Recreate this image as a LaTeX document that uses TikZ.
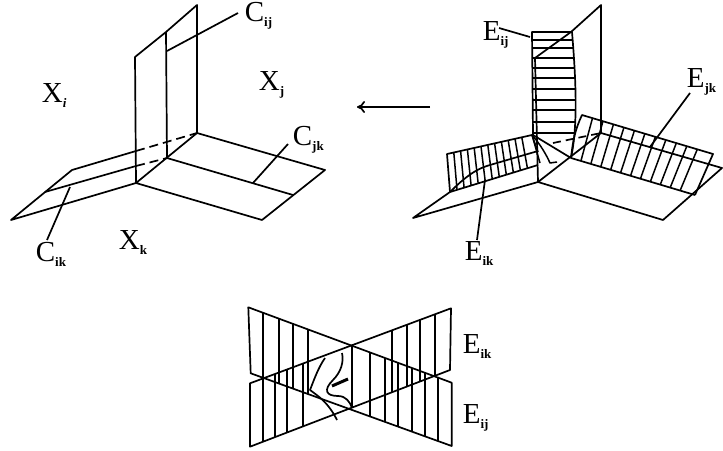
\documentclass[tikz,border=0pt]{standalone}
\usepackage{fontspec}
\setmainfont{Liberation Serif}
\usetikzlibrary{calc,arrows.meta}
\newcommand{\biglab}[2]{{\fontsize{29}{29}\selectfont #1}\raisebox{-5pt}{\fontsize{13}{13}\selectfont\bfseries #2}}
\begin{document}
\begin{tikzpicture}[
x=1pt,y=-1pt,
line width=1.7pt,line join=round,
hatch/.style={line width=1.5pt},
lab/.style={anchor=west,inner sep=0pt}
]
\useasboundingbox (0,0) rectangle (723,450);
\node[lab] (Xi) at (41,96) {\biglab{X}{\textit{i}}};
\node[lab] (Xj) at (258,85) {\biglab{X}{j}};
\node[lab] (Xk) at (118,243) {\biglab{X}{k}};
\node[lab] (Cij) at (244,16) {\biglab{C}{ij}};
\node[lab] (Cjk) at (292,140) {\biglab{C}{jk}};
\node[lab] (Cik) at (35,254) {\biglab{C}{ik}};
\node[lab] (Eij) at (482,35) {\biglab{E}{ij}};
\node[lab] (Ejk) at (686,82) {\biglab{E}{jk}};
\node[lab] (Eik) at (464,254) {\biglab{E}{ik}};
\node[lab] (Elow) at (462,347) {\biglab{E}{ik}};
\node[lab] (Elowb) at (462,418) {\biglab{E}{ij}};

\coordinate (a1) at (197,133);
\coordinate (a2) at (197,5);
\coordinate (a3) at (166,32);
\coordinate (a4) at (135,57);
\coordinate (a5) at (136,183);
\coordinate (a6) at (167,158);
\coordinate (a7) at (325,170);
\coordinate (a8) at (262,220);
\coordinate (a9) at (293,195);
\coordinate (a10) at (11,220);
\coordinate (a11) at (72,170);
\coordinate (a12) at (45,192);
\coordinate (a13) at (136,151);
\coordinate (a14) at (136,166);
\draw (a1) -- (a2) -- (a3) -- (a4) -- (a5) -- (a8) -- (a7) -- (a1) -- (a5);
\draw (a3) -- (a6) -- (a9);
\draw (a5) -- (a10) -- (a11) -- (a13);
\draw (a12) -- (a14);
\draw[dashed,dash pattern=on 9pt off 5pt] (a13) -- (a1);
\draw[dashed,dash pattern=on 9pt off 5pt] (a14) -- (a6);
\coordinate (p1) at (167,51);
\coordinate (p2) at (253,183);
\coordinate (p3) at (70,187);
\draw (p1) -- ([shift={(-6,-3)}]Cij.west);
\draw (p2) -- ([shift={(-4,4)}]Cjk.west);
\draw (p3) -- ([shift={(12,-14)}]Cik.west);

\coordinate (arrowr) at (430,107);
\coordinate (arrowl) at (357,107);
\draw[-{To[length=8pt,width=12pt]}] (arrowr) -- (arrowl);

\coordinate (b1) at (601,133);
\coordinate (b2) at (601,5);
\coordinate (b3) at (571,32);
\coordinate (b4) at (535,58);
\coordinate (b5) at (538,182);
\coordinate (b6) at (571,158);
\coordinate (b7) at (722,168);
\coordinate (b8) at (663,220);
\coordinate (b9) at (695,195);
\coordinate (b10) at (413,218);
\coordinate (b11) at (450,192);
\coordinate (b12) at (538,165);
\draw (b1) -- (b2) -- (b3) -- (b4) -- (b5) -- (b8) -- (b7) -- (b1) -- (b5);
\draw (b6) -- (b9);
\draw (b5) -- (b10) -- (b11) -- (b12);

\coordinate (eij1) at (532,32);
\coordinate (eij2) at (572,32);
\coordinate (eij3) at (533,135);
\draw (eij3) -- (eij1) -- (eij2) .. controls (576,80) and (578,125) .. (b6);
\draw (eij3) -- (b6);
\foreach \y/\r in {40/573,48/574,58/574,68/575,78/576,89/576,100/576,110/576,122/576,133/575}
  \draw[hatch] (532,\y) -- (\r,\y);

\coordinate (ejk1) at (582,115);
\coordinate (ejk2) at (713,154);
\draw (b6) .. controls (573,140) and (575,130) .. (ejk1) -- (ejk2) -- (b9);
\foreach \t in {0.08,0.16,...,0.95}
  \draw[hatch] ($(ejk1)!\t!(ejk2)$) -- ($(b6)!\t!(b9)$);

\coordinate (eik1) at (447,154);
\coordinate (eik2) at (532,135);
\draw (b11) -- (eik1) -- (eik2);
\foreach \t in {0.08,0.16,...,0.95}
  \draw[hatch] ($(eik1)!\t!(eik2)$) -- ($(b11)!\t!(b12)$);
\draw (b11) .. controls (470,172) and (480,168) .. (490,165) -- (538,151);
\draw[hatch] (eik2) -- (540,163);
\draw[hatch] (eik2) -- (538,152);
\draw[hatch] (eik2) .. controls (540,144) and (546,154) .. (550,163) -- (557,162);
\draw[dashed,dash pattern=on 8pt off 5pt] (553,143) -- (b1);

\coordinate (q1) at (530,37);
\coordinate (q2) at (650,147);
\coordinate (q3) at (485,180);
\draw (q1) -- ([shift={(17,-7)}]Eij.west);
\draw (q2) -- ([shift={(4,11)}]Ejk.west);
\draw (q3) -- ([shift={(13,-14)}]Eik.west);

\coordinate (c1) at (248.3,307.3);
\coordinate (c2) at (451.7,382.7);
\coordinate (c3) at (250,383.3);
\coordinate (c4) at (451,308.3);
\coordinate (c5) at (250.7,373.3);
\coordinate (c6) at (451.7,446);
\coordinate (c7) at (250,446.7);
\coordinate (c8) at (450,370);
\coordinate (c9) at (352,345);
\coordinate (c10) at (352,408);
\draw (c1) -- (c2) -- (c6) -- (c5) -- cycle;
\draw (c3) -- (c4) -- (c8) -- (c7) -- cycle;
\draw[hatch] (c9) -- (c10);
\foreach \x in {263,279,293,308,370,385,398,412,425,438}
  \draw[hatch] (\x,{307.3+(\x-248.3)*.371}) -- (\x,{373.3+(\x-250.7)*.362});
\foreach \x in {263,275,287,303,392,407,420,435}
  \draw[hatch] (\x,{383.3-(\x-250)*.374}) -- (\x,{446.7-(\x-250)*.383});
\draw (342,353) .. controls (344,362) and (341,372) .. (333,380) .. controls (323,390) and (326,396) .. (338,396) .. controls (346,396) and (350,402) .. (352,408);
\draw (325,358) .. controls (318,368) and (314,380) .. (310,390) .. controls (318,396) and (328,402) .. (337,420);
\draw[line width=3pt] (332,386) -- (348,379);
\end{tikzpicture}
\end{document}
